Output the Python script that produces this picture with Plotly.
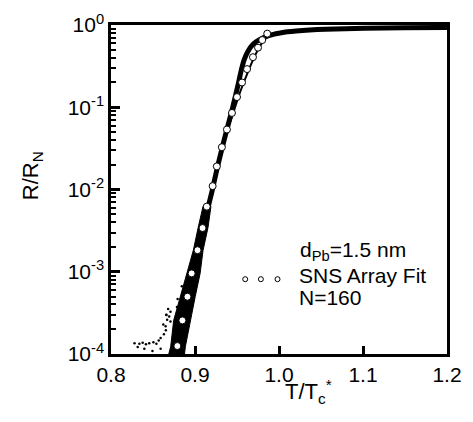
import math
import plotly.graph_objects as go

# Measured data band (thick curve), T/Tc* vs R/RN
curve_x = [0.8805, 0.8875, 0.8945, 0.9003, 0.9073, 0.9131, 0.9201, 0.9259, 0.9318, 0.9376,
           0.9434, 0.9481, 0.9516, 0.9551, 0.9586, 0.9633, 0.9691, 0.9773, 0.9878, 1.0029,
           1.0204, 1.0554, 1.1020, 1.1487, 1.2000]
curve_y = [1.0e-4, 2.49e-4, 5.57e-4, 1.09e-3, 2.44e-3, 4.78e-3, 9.35e-3, 1.73e-2, 3.05e-2, 5.21e-2,
           8.68e-2, 0.137, 0.194, 0.283, 0.380, 0.484, 0.584, 0.668, 0.744, 0.807,
           0.844, 0.886, 0.910, 0.923, 0.935]

# Right-hand branch of the data band near the knee
branch_x = [0.9388, 0.9458, 0.9516, 0.9580, 0.9644, 0.9703, 0.9761, 0.9819, 0.9889, 0.9994]
branch_y = [5.36e-2, 8.68e-2, 0.133, 0.200, 0.291, 0.401, 0.525, 0.651, 0.765, 0.829]

# Widened lower part of the data band (outline)
band_x = [0.8688, 0.8711, 0.8746, 0.8828, 0.8898, 0.8980, 0.9038, 0.9096,
          0.9190, 0.9155, 0.9096, 0.9061, 0.9003, 0.8945, 0.8886, 0.8875]
band_y = [1.0e-4, 1.24e-4, 2.56e-4, 5.01e-4, 9.54e-4, 1.82e-3, 3.46e-3, 6.25e-3,
          6.25e-3, 3.46e-3, 1.82e-3, 9.54e-4, 5.01e-4, 2.56e-4, 1.24e-4, 1.0e-4]

# Scattered low-resistance points
dots_x = [0.8280, 0.8338, 0.8377, 0.8416, 0.8455, 0.8505, 0.8540, 0.8568, 0.8591, 0.8630,
          0.8653, 0.8622, 0.8668, 0.8692, 0.8661, 0.8708, 0.8650, 0.8680, 0.8657, 0.8708,
          0.8318, 0.8397, 0.8493, 0.8591, 0.8793, 0.8843, 0.8785]
dots_y = [1.35e-4, 1.33e-4, 1.37e-4, 1.31e-4, 1.35e-4, 1.39e-4, 1.33e-4, 1.46e-4, 1.57e-4, 1.74e-4,
          1.94e-4, 2.28e-4, 2.61e-4, 2.85e-4, 2.98e-4, 3.26e-4, 2.18e-4, 3.53e-4, 3.01e-4, 2.49e-4,
          1.22e-4, 1.16e-4, 1.09e-4, 1.16e-4, 4.66e-4, 6.67e-4, 3.73e-4]

# SNS array fit (open circles)
fit_x = [0.879, 0.885, 0.891, 0.896, 0.903, 0.909, 0.914, 0.921, 0.926, 0.932,
         0.938, 0.944, 0.950, 0.956, 0.962, 0.969, 0.975, 0.980, 0.986]
fit_y = [1.25e-4, 2.56e-4, 4.97e-4, 9.55e-4, 1.83e-3, 3.40e-3, 6.19e-3, 1.10e-2, 1.91e-2, 3.27e-2,
         5.36e-2, 8.53e-2, 0.133, 0.200, 0.291, 0.406, 0.530, 0.656, 0.785]

x_ticks = [0.8, 0.9, 1.0, 1.1, 1.2]
x_tick_labels = ["0.8", "0.9", "1.0", "1.1", "1.2"]
y_ticks = [1e-4, 1e-3, 1e-2, 1e-1, 1e0]
y_tick_labels = ["10<sup>-4</sup>", "10<sup>-3</sup>", "10<sup>-2</sup>", "10<sup>-1</sup>", "10<sup>0</sup>"]
y_minor_ticks = [m * d for d in (1e-4, 1e-3, 1e-2, 1e-1) for m in range(2, 10)]

FONT = "Liberation Sans, Arial, sans-serif"

fig = go.Figure()
fig.add_trace(go.Scatter(x=band_x, y=band_y, mode="lines", fill="toself",
                         fillcolor="black", line=dict(color="black", width=1),
                         showlegend=False, hoverinfo="skip"))
fig.add_trace(go.Scatter(x=curve_x, y=curve_y, mode="lines",
                         line=dict(color="black", width=5, shape="spline", smoothing=0.6),
                         showlegend=False))
fig.add_trace(go.Scatter(x=branch_x, y=branch_y, mode="lines",
                         line=dict(color="black", width=2, shape="spline", smoothing=0.6),
                         showlegend=False))
fig.add_trace(go.Scatter(x=dots_x, y=dots_y, mode="markers",
                         marker=dict(color="black", size=2.5),
                         showlegend=False))
fig.add_trace(go.Scatter(x=fit_x, y=fit_y, mode="markers",
                         marker=dict(symbol="circle", size=7, color="white",
                                     line=dict(color="black", width=1)),
                         showlegend=False))
# empty trace so the overlaying minor-tick axis is drawn
fig.add_trace(go.Scatter(x=[None], y=[None], yaxis="y2", mode="markers",
                         showlegend=False, hoverinfo="skip"))

W, H = 473, 422
L, R, T, B = 111, 19, 11, 68
pw, ph = W - L - R, H - T - B

def px(x):
    return (x - L) / pw

def py(y):
    return (H - B - y) / ph

fig.update_layout(
    width=W, height=H,
    margin=dict(l=L, r=R, t=T, b=B),
    paper_bgcolor="white", plot_bgcolor="white",
    font=dict(family=FONT, size=21, color="black"),
    showlegend=False,
    xaxis=dict(range=[0.8, 1.2], tickvals=x_ticks, ticktext=x_tick_labels,
               ticks="inside", ticklen=8, tickwidth=2.5, tickcolor="black",
               ticklabeloverflow="allow",
               showline=True, linecolor="black", linewidth=2.5, mirror=True,
               showgrid=False, zeroline=False),
    yaxis=dict(type="log", range=[-4, 0], tickmode="array", tickvals=y_ticks, ticktext=y_tick_labels,
               ticks="inside", ticklen=9, tickwidth=2.5, tickcolor="black",
               ticklabeloverflow="allow",
               showline=True, linecolor="black", linewidth=2.5, mirror=True,
               showgrid=False, zeroline=False),
    yaxis2=dict(overlaying="y", side="left", range=[-4, 0], tickmode="array",
                tickvals=[math.log10(v) for v in y_minor_ticks],
                ticks="inside", ticklen=5, tickwidth=2, tickcolor="black",
                showticklabels=False, showline=False, showgrid=False, zeroline=False),
)

annotations = [
    dict(text="R/R<sub>N</sub>", x=px(30), y=py(168), xref="paper", yref="paper",
         textangle=-90, showarrow=False, font=dict(size=22), xanchor="center", yanchor="middle"),
    dict(text="T/T<sub>c</sub><sup>*</sup>", x=px(313), y=py(393), xref="paper", yref="paper",
         showarrow=False, font=dict(size=22), xanchor="center", yanchor="middle"),
    dict(text="d<sub>Pb</sub>=1.5 nm", x=px(302), y=py(247), xref="paper", yref="paper",
         showarrow=False, xanchor="left", yanchor="middle", font=dict(size=21)),
    dict(text="SNS Array Fit", x=px(301), y=py(272), xref="paper", yref="paper",
         showarrow=False, xanchor="left", yanchor="middle", font=dict(size=21)),
    dict(text="N=160", x=px(301), y=py(295), xref="paper", yref="paper",
         showarrow=False, xanchor="left", yanchor="middle", font=dict(size=21)),
]
fig.update_layout(annotations=annotations)

shapes = []
for cx in (248, 264, 281):
    shapes.append(dict(type="circle", xref="paper", yref="paper",
                       xsizemode="pixel", ysizemode="pixel",
                       xanchor=px(cx), yanchor=py(276),
                       x0=-2.5, x1=2.5, y0=-2.5, y1=2.5,
                       line=dict(color="black", width=1), fillcolor="white"))
fig.update_layout(shapes=shapes)

fig.write_html("out.html", config={"displayModeBar": False},
               post_script="document.body.style.margin='0px';document.body.style.padding='0px';")
